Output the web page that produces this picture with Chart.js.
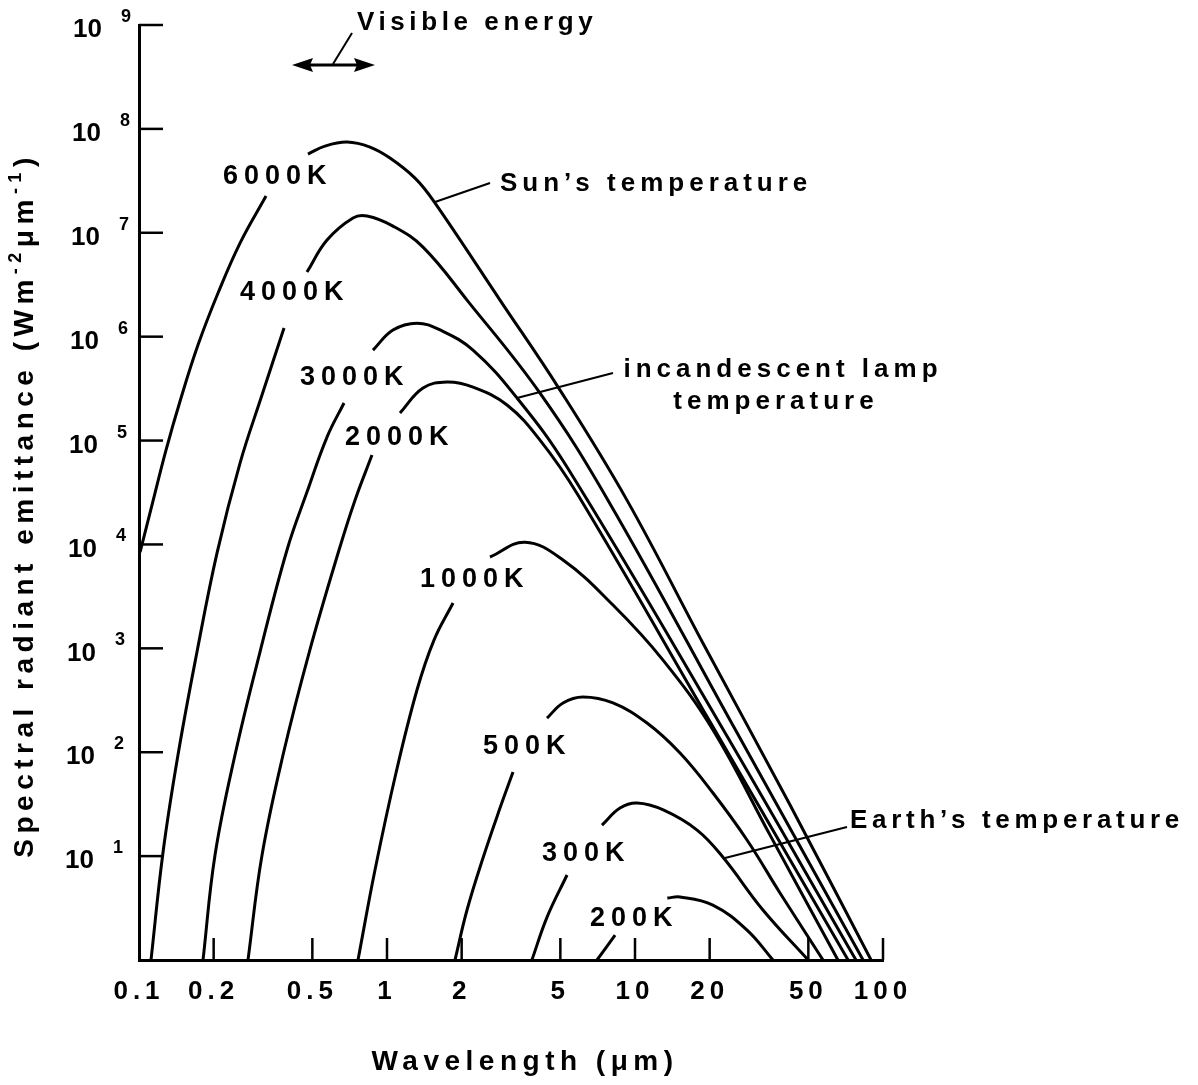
<!DOCTYPE html>
<html>
<head>
<meta charset="utf-8">
<script src="https://cdn.jsdelivr.net/npm/chart.js@4.4.0/dist/chart.umd.min.js"></script>
<style>
  html, body { margin: 0; padding: 0; background: #fff; }
  #wrap { width: 1198px; height: 1085px; position: relative; }
</style>
</head>
<body>
<div id="wrap"><canvas id="chart"></canvas></div>
<script>
/* ===== Values ===== */
const xTicks = [0.1, 0.2, 0.5, 1, 2, 5, 10, 20, 50, 100];
const xTickLabels = ['0.1', '0.2', '0.5', '1', '2', '5', '10', '20', '50', '100'];
const yExponents = [1, 2, 3, 4, 5, 6, 7, 8, 9];

const temps = ['6000K', '4000K', '3000K', '2000K', '1000K', '500K', '300K', '200K'];

// wavelength (um) / spectral emittance; null = gap where the curve label sits
const wl6000 = [0.101, 0.1128, 0.1285, 0.1477, 0.1729, 0.2083, 0.2555, 0.3252, 0.40, 0.480, 0.562, 0.690, 0.854, 1.028, 1.297, 1.533, 2.855, 4.985, 9.28, 18.8, 42.2, 89.5];
const e6000  = [8.45e3, 2.39e4, 8.1e4, 2.57e5, 8.3e5, 2.63e6, 7.96e6, 2.26e7, null, 5.72e7, 6.83e7, 7.46e7, 6.68e7, 5.24e7, 3.36e7, 2.06e7, 2.25e6, 3.06e5, 2.67e4, 1.12e3, 31, 1];

const wl4000 = [0.1118, 0.125, 0.1436, 0.1713, 0.2063, 0.2555, 0.3133, 0.3844, 0.43, 0.4757, 0.573, 0.7294, 0.8305, 1.057, 1.397, 2.102, 4.14, 7.78, 25.3, 83.1];
const e4000  = [1, 10.9, 94, 921, 8.26e3, 6.07e4, 2.74e5, 1.21e6, null, 4.19e6, 8.51e6, 1.39e7, 1.45e7, 1.16e7, 7.28e6, 2.25e6, 2.86e5, 2.67e4, 167, 1];

const wl3000 = [0.1812, 0.2025, 0.2438, 0.3075, 0.3952, 0.4757, 0.573, 0.6709, 0.77, 0.878, 1.057, 1.321, 1.636, 2.222, 3.344, 5.319, 22.0, 77.8];
const e3000  = [1, 10.2, 94, 921, 8.84e3, 3.19e4, 1.08e5, 2.3e5, null, 7.43e5, 1.16e6, 1.35e6, 1.16e6, 7.43e5, 2.57e5, 5.56e4, 187, 1];

const wl2000 = [0.2751, 0.3133, 0.3808, 0.4848, 0.6406, 0.743, 0.8699, 1.0, 1.128, 1.397, 1.746, 2.222, 3.048, 4.14, 5.89, 20.1, 72.3];
const e2000  = [1, 10.2, 94, 901, 8.84e3, 2.67e4, 7.25e4, null, 1.84e5, 3.2e5, 3.66e5, 3.27e5, 2.2e5, 1.01e5, 2.99e4, 195, 1];

const wl1000 = [0.764, 0.8945, 1.087, 1.321, 1.547, 1.846, 2.2, 2.602, 3.601, 5.126, 8.151, 12.97, 20.63, 35.0, 65.8];
const e1000  = [1, 7.35, 63.1, 397, 1.2e3, 2.73e3, null, 7.57e3, 1.05e4, 7.08e3, 2.61e3, 771, 164, 16.0, 1];

const wl500 = [1.88, 2.102, 2.438, 2.855, 3.222, 3.8, 4.418, 5.126, 6.17, 8.151, 11.18, 15.19, 20.63, 28.29, 38.43, 57.3];
const e500  = [1, 3.03, 9.59, 29.0, 64.5, null, 213, 298, 340, 298, 191, 98.3, 40.5, 14.3, 4.42, 1];

const wl300 = [3.84, 4.42, 5.32, 6.3, 7.36, 8.70, 10.2, 13.0, 17.8, 22.6, 32.8, 49.9];
const e300  = [1, 2.59, 6.58, null, 19.9, 29.0, 32.4, 27.8, 17.8, 9.8, 3.03, 1];

const wl200 = [7.03, 8.31, 11, 13.5, 15.2, 20.6, 28.3, 36.0];
const e200  = [1, 1.74, null, 3.95, 4.04, 3.38, 1.94, 1];

const curves = [[wl6000, e6000], [wl4000, e4000], [wl3000, e3000], [wl2000, e2000],
                [wl1000, e1000], [wl500, e500], [wl300, e300], [wl200, e200]];

/* ===== Layout of the hand-lettered annotations (canvas px) ===== */
const FONT = "'Liberation Sans', Arial, sans-serif";
const curveLabelPos = [[223, 177], [240, 293], [300, 378], [345, 438], [420, 580], [483, 747], [542, 854], [590, 919]];

function drawText(ctx, s, x, y, size, spacing, align) {
    ctx.font = `bold ${size}px ${FONT}`;
    ctx.letterSpacing = spacing + 'px';
    ctx.textAlign = align || 'left';
    ctx.textBaseline = 'middle';
    ctx.fillText(s, x, y);
}

function drawLine(ctx, x1, y1, x2, y2, w) {
    ctx.lineWidth = w;
    ctx.beginPath();
    ctx.moveTo(x1, y1);
    ctx.lineTo(x2, y2);
    ctx.stroke();
}

const figurePlugin = {
    id: 'figure',
    beforeDraw(chart) {
        chart.ctx.letterSpacing = '5px';   // spaced lettering for the x tick labels
    },
    afterDraw(chart) {
        const ctx = chart.ctx;
        const xs = chart.scales.x, ys = chart.scales.y;
        ctx.save();
        ctx.fillStyle = '#000';
        ctx.strokeStyle = '#000';
        ctx.lineCap = 'butt';

        // inward tick marks + y labels
        xs.ticks.forEach(t => {
            if (t.value <= xs.min) return;
            const px = xs.getPixelForValue(t.value);
            drawLine(ctx, px, ys.bottom, px, ys.bottom - 22, 2.5);
        });
        ys.ticks.forEach(t => {
            if (t.value <= ys.min) return;
            const py = ys.getPixelForValue(t.value);
            drawLine(ctx, xs.left, py, xs.left + 24, py, 2.5);
            const exp = Math.round(Math.log10(t.value));
            const right = 93 + (ys.bottom - py) * 0.0096;
            drawText(ctx, '10', right, py + 5, 26, 0, 'right');
            drawText(ctx, String(exp), right + 19, py - 8, 18, 0, 'left');
        });

        // curve labels
        temps.forEach((t, i) => {
            drawText(ctx, t, curveLabelPos[i][0], curveLabelPos[i][1], 27, 6);
        });

        // callouts
        drawText(ctx, 'Visible energy', 357, 23, 26, 4.6);
        drawText(ctx, 'Sun\u2019s temperature', 500, 184, 26, 5);
        drawText(ctx, 'incandescent lamp', 783, 370, 26, 5, 'center');
        drawText(ctx, 'temperature', 776, 402, 26, 5, 'center');
        drawText(ctx, 'Earth\u2019s temperature', 850, 821, 26, 4.7);

        drawLine(ctx, 435, 202, 490, 183, 2.2);
        drawLine(ctx, 517, 398, 613, 373, 2.2);
        drawLine(ctx, 725, 858, 847, 827, 2.2);

        // visible-band double arrow
        drawLine(ctx, 306, 65, 361, 65, 3);
        ctx.beginPath();
        ctx.moveTo(292, 65); ctx.lineTo(313, 58); ctx.lineTo(310, 65); ctx.lineTo(313, 72); ctx.closePath();
        ctx.fill();
        ctx.beginPath();
        ctx.moveTo(375, 65); ctx.lineTo(354, 58); ctx.lineTo(357, 65); ctx.lineTo(354, 72); ctx.closePath();
        ctx.fill();
        drawLine(ctx, 333, 64, 352, 33, 2);

        // axis titles
        drawText(ctx, 'Wavelength (\u03bcm)', 525, 1062, 28, 5.5, 'center');

        ctx.save();
        ctx.translate(33, 505);
        ctx.rotate(-Math.PI / 2);
        const parts = [['Spectral radiant emittance (Wm', 28, 0], ['-2', 18, -12], ['\u03bcm', 28, 0], ['-1', 18, -12], [')', 28, 0]];
        ctx.letterSpacing = '5.5px';
        let total = 0;
        parts.forEach(p => { ctx.font = `bold ${p[1]}px ${FONT}`; total += ctx.measureText(p[0]).width; });
        let cx = -total / 2;
        ctx.textAlign = 'left';
        ctx.textBaseline = 'alphabetic';
        parts.forEach(p => {
            ctx.font = `bold ${p[1]}px ${FONT}`;
            ctx.fillText(p[0], cx, p[2]);
            cx += ctx.measureText(p[0]).width;
        });
        ctx.restore();

        ctx.restore();
    }
};

/* ===== Chart ===== */
new Chart(document.getElementById('chart'), {
    type: 'line',
    data: {
        datasets: curves.map((c, i) => ({
            label: temps[i],
            data: c[0].map((w, j) => ({ x: w, y: c[1][j] })),
            borderColor: '#000',
            borderWidth: 3,
            pointRadius: 0,
            fill: false,
            spanGaps: false,
            tension: 0.4
        }))
    },
    options: {
        responsive: true,
        maintainAspectRatio: false,
        animation: false,
        layout: { padding: { top: 25, right: 315, left: 0, bottom: 0 } },
        plugins: { legend: { display: false }, tooltip: { enabled: false } },
        scales: {
            x: {
                type: 'logarithmic',
                min: 0.1, max: 100,
                afterBuildTicks: s => { s.ticks = xTicks.map(v => ({ value: v })); },
                afterFit: s => { s.height = 125; },
                grid: { display: false, drawTicks: false },
                border: { display: true, color: '#000', width: 3 },
                ticks: {
                    autoSkip: false, maxRotation: 0, padding: 16, color: '#000',
                    font: { family: FONT, size: 26, weight: 'bold' },
                    callback: (v, i) => xTickLabels[i]
                }
            },
            y: {
                type: 'logarithmic',
                min: 1, max: 1e9,
                afterBuildTicks: s => { s.ticks = yExponents.map(e => ({ value: Math.pow(10, e) })); },
                afterFit: s => { s.width = 139; },
                grid: { display: false, drawTicks: false },
                border: { display: true, color: '#000', width: 3 },
                ticks: { display: false }
            }
        }
    },
    plugins: [figurePlugin]
});
</script>
</body>
</html>
